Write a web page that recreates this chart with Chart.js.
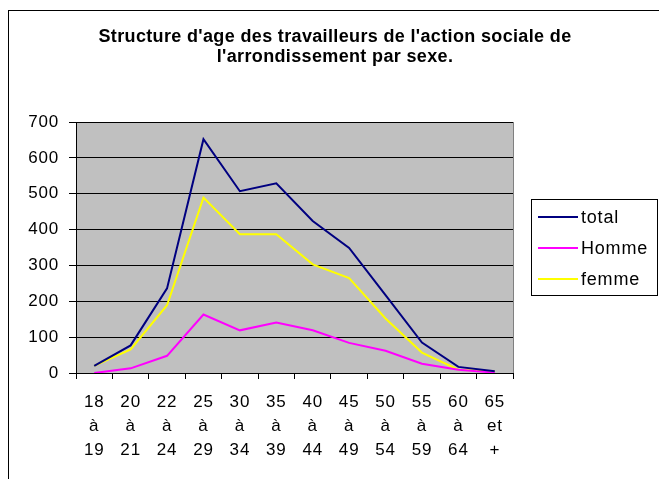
<!DOCTYPE html>
<html>
<head>
<meta charset="utf-8">
<script src="https://cdn.jsdelivr.net/npm/chart.js@4/dist/chart.umd.min.js"></script>
<style>
  html, body { margin: 0; padding: 0; background: #fff; }
  #wrap { width: 659px; height: 479px; }
</style>
</head>
<body>
<div id="wrap"><canvas id="ageChart" width="659" height="479"></canvas></div>
<script>
// ─── Data ─────────────────────────────────────────────────────────────────────
const ageGroups = [
  ['18', 'à', '19'], ['20', 'à', '21'], ['22', 'à', '24'], ['25', 'à', '29'],
  ['30', 'à', '34'], ['35', 'à', '39'], ['40', 'à', '44'], ['45', 'à', '49'],
  ['50', 'à', '54'], ['55', 'à', '59'], ['60', 'à', '64'], ['65', 'et', '+'],
];
const totalValues = [20, 77, 236, 652, 507, 529, 424, 349, 217, 85, 17, 5];
const hommeValues = [0, 13, 48, 163, 119, 141, 119, 84, 62, 26, 9, 1];
const femmeValues = [20, 66, 189, 489, 387, 387, 303, 265, 152, 57, 9, 5];
const seriesNames = ['total', 'Homme', 'femme'];
const yMin = 0, yMax = 700, yStep = 100;
const titleLines = [
  "Structure d'age des travailleurs de l'action sociale de",
  "l'arrondissement par sexe.",
];

const FONT = 'Arial, "Liberation Sans", sans-serif';

// Excel-like frame: chart border, grey plot area, title and boxed legend
const excelFrame = {
  id: 'excelFrame',
  beforeDraw(chart) {
    const { ctx, chartArea: a } = chart;
    ctx.save();
    ctx.fillStyle = '#fff';
    ctx.fillRect(0, 0, chart.width, chart.height);
    ctx.strokeStyle = '#000';
    ctx.lineWidth = 1;
    ctx.strokeRect(8.5, 10.5, chart.width + 10, chart.height + 10);
    ctx.fillStyle = '#c0c0c0';
    ctx.fillRect(a.left, a.top, a.right - a.left, a.bottom - a.top);
    ctx.restore();
    ctx.letterSpacing = '0.8px'; // slightly wide Excel digits on the axes
  },
  beforeDatasetsDraw(chart) {
    const { ctx, chartArea: a } = chart;
    ctx.save();
    ctx.strokeStyle = '#808080';
    ctx.beginPath();
    ctx.moveTo(Math.round(a.right) + 0.5, a.top);
    ctx.lineTo(Math.round(a.right) + 0.5, a.bottom);
    ctx.stroke();
    ctx.restore();
  },
  afterDraw(chart) {
    const { ctx } = chart;
    ctx.save();
    // title
    ctx.fillStyle = '#000';
    ctx.font = `bold 18px ${FONT}`;
    ctx.letterSpacing = '0.35px';
    ctx.textAlign = 'center';
    ctx.textBaseline = 'middle';
    titleLines.forEach((line, i) => ctx.fillText(line, 335, 37 + i * 20));

    // legend
    ctx.letterSpacing = '0.8px';
    ctx.fillStyle = '#fff';
    ctx.fillRect(531, 199, 127, 97);
    ctx.strokeStyle = '#000';
    ctx.lineWidth = 1;
    ctx.strokeRect(531.5, 199.5, 126, 96);
    ctx.font = `18px ${FONT}`;
    ctx.textAlign = 'left';
    chart.data.datasets.forEach((ds, i) => {
      const y = 217 + i * 31;
      ctx.strokeStyle = ds.borderColor;
      ctx.lineWidth = 2;
      ctx.beginPath();
      ctx.moveTo(538, y);
      ctx.lineTo(578, y);
      ctx.stroke();
      ctx.fillStyle = '#000';
      ctx.fillText(ds.label, 581, y + 1);
    });
    ctx.restore();
    ctx.letterSpacing = '0px';
  },
};

function makeDataset(label, data, color) {
  return {
    label, data,
    borderColor: color,
    backgroundColor: color,
    borderWidth: 2,
    pointRadius: 0,
    tension: 0,
    fill: false,
  };
}

new Chart(document.getElementById('ageChart'), {
  type: 'line',
  data: {
    labels: ageGroups,
    datasets: [
      makeDataset(seriesNames[0], totalValues, '#000080'),
      makeDataset(seriesNames[1], hommeValues, '#ff00ff'),
      makeDataset(seriesNames[2], femmeValues, '#ffff00'),
    ],
  },
  options: {
    responsive: false,
    animation: false,
    layout: { padding: { top: 122, right: 146, bottom: 0, left: 0 } },
    plugins: {
      legend: { display: false },
      title: { display: false },
      tooltip: { enabled: false },
    },
    scales: {
      x: {
        offset: true,
        afterFit(scale) { scale.height = 106; },
        grid: { offset: true, drawOnChartArea: false, color: '#000', tickLength: 6 },
        border: { color: '#000', width: 1 },
        ticks: {
          color: '#000',
          maxRotation: 0,
          autoSkip: false,
          padding: 11,
          font: { family: FONT, size: 17, lineHeight: '24px' },
        },
      },
      y: {
        min: yMin,
        max: yMax,
        afterFit(scale) { scale.width = 76; },
        grid: { color: '#000', tickLength: 7 },
        border: { color: '#000', width: 1 },
        ticks: {
          stepSize: yStep,
          color: '#000',
          padding: 10,
          font: { family: FONT, size: 17 },
        },
      },
    },
  },
  plugins: [excelFrame],
});
</script>
</body>
</html>
